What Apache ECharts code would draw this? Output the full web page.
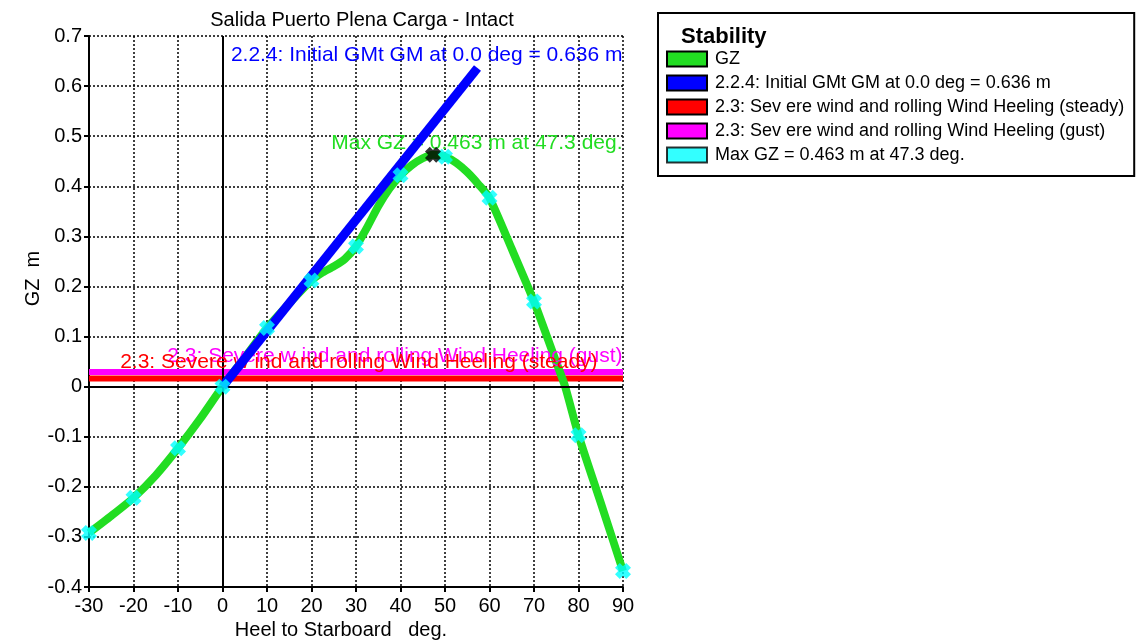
<!DOCTYPE html>
<html lang="en">
<head>
  <meta charset="UTF-8">
  <title>Salida Puerto Plena Carga - Intact</title>
  <style>
    body { margin: 0; padding: 0; background: #fff; }
    #chart { width: 1138px; height: 642px; }
  </style>
  <script src="https://cdn.jsdelivr.net/npm/echarts@6/dist/echarts.min.js"></script>
</head>
<body>
  <div id="chart"></div>
  <script>
    // GZ curve (heel in deg, GZ in m)
    const heelDeg = [-30, -25, -20, -15, -10, -5, 0, 5, 10, 15, 20, 22.5, 25, 27.5, 30, 32.5, 35, 37.5,
                     40, 42.5, 45, 47.3, 50, 52.5, 55, 57.5, 60, 65, 70, 75, 77, 80, 85, 90];
    const gzValues = [-0.292, -0.258, -0.222, -0.177, -0.123, -0.064, 0, 0.058, 0.117, 0.166, 0.212, 0.228, 0.240, 0.255,
                      0.280, 0.318, 0.360, 0.395, 0.422, 0.442, 0.456, 0.463, 0.459, 0.447, 0.428, 0.404, 0.377, 0.275,
                      0.170, 0.049, 0, -0.097, -0.232, -0.368];

    // cyan cross markers every 10 deg
    const markDeg = [-30, -20, -10, 0, 10, 20, 30, 40, 50, 60, 70, 80, 90];
    const markGz = [-0.292, -0.222, -0.123, 0, 0.117, 0.212, 0.280, 0.422, 0.459, 0.377, 0.170, -0.097, -0.368];

    // initial GM line, up to 1 rad
    const gmDeg = [0, 57.3];
    const gmGz = [0, 0.636];

    // wind heeling arms
    const windDeg = [-30, 90];
    const steadyArm = [0.016, 0.016];
    const gustArm = [0.029, 0.029];

    // max GZ point
    const maxDeg = [47.3];
    const maxGz = [0.463];

    const xTicks = { min: -30, max: 90, step: 10 };
    const yTicks = { min: -0.4, max: 0.7, step: 0.1 };

    const names = {
      gz: 'GZ',
      gm: '2.2.4: Initial GMt GM at 0.0 deg = 0.636 m',
      steady: '2.3: Sev ere wind and rolling Wind Heeling (steady)',
      gust: '2.3: Sev ere wind and rolling Wind Heeling (gust)',
      max: 'Max GZ = 0.463 m at 47.3 deg.'
    };

    const pairs = (xs, ys) => xs.map((x, i) => [x, ys[i]]);
    const font = "'Liberation Sans', Arial, sans-serif";
    // bold X marker
    const crossPath = 'path://M0,3 L3,0 L5,2 L7,0 L10,3 L8,5 L10,7 L7,10 L5,8 L3,10 L0,7 L2,5 Z';
    const dotted = { color: '#000', width: 1.5, type: [2, 2] };

    const chart = echarts.init(document.getElementById('chart'));

    const option = {
      backgroundColor: '#fff',
      animation: false,
      textStyle: { fontFamily: font },
      title: [
        {
          text: 'Salida Puerto Plena Carga - Intact',
          left: 357, top: 5, textAlign: 'center',
          textStyle: { fontSize: 20, fontWeight: 'normal', color: '#000', fontFamily: font }
        },
        {
          text: 'Stability',
          left: 676, top: 21,
          textStyle: { fontSize: 22, fontWeight: 'bold', color: '#000', fontFamily: font }
        }
      ],
      legend: {
        orient: 'vertical',
        left: 658, top: 13,
        padding: [37, 10, 12, 8],
        itemGap: 6,
        itemWidth: 40, itemHeight: 15,
        icon: 'rect',
        selectedMode: false,
        borderColor: '#000', borderWidth: 2,
        itemStyle: { borderColor: '#000', borderWidth: 2 },
        textStyle: { fontSize: 18, lineHeight: 18, color: '#000', fontFamily: font, padding: [0, 0, 0, 3] },
        data: [names.gz, names.gm, names.steady, names.gust, names.max]
      },
      grid: { left: 89, right: 515, top: 36, bottom: 55, outerBoundsMode: 'none' },
      xAxis: {
        type: 'value',
        min: xTicks.min, max: xTicks.max, interval: xTicks.step,
        name: 'Heel to Starboard   deg.',
        nameLocation: 'middle', nameGap: 33,
        nameTextStyle: { fontSize: 20, color: '#000', padding: [0, 30, 0, 0] },
        axisLine: { onZero: false, lineStyle: { color: '#000', width: 2 } },
        axisTick: { show: true, length: 5, lineStyle: { color: '#000', width: 2 } },
        axisLabel: { fontSize: 20, color: '#000', margin: 9 },
        splitLine: { show: true, lineStyle: dotted }
      },
      yAxis: {
        type: 'value',
        min: yTicks.min, max: yTicks.max, interval: yTicks.step,
        name: 'GZ  m',
        nameLocation: 'middle', nameGap: 44,
        nameTextStyle: { fontSize: 20, color: '#000', padding: [0, 0, 0, 66] },
        axisLine: { onZero: false, lineStyle: { color: '#000', width: 2 } },
        axisTick: { show: true, length: 5, lineStyle: { color: '#000', width: 2 } },
        axisLabel: { fontSize: 20, color: '#000', margin: 7, formatter: v => String(Number(v.toFixed(1))) },
        splitLine: { show: true, lineStyle: dotted }
      },
      series: [
        {
          name: 'zero',
          type: 'line',
          data: [],
          z: 1,
          markLine: {
            silent: true, symbol: 'none', animation: false,
            label: { show: false },
            lineStyle: { color: '#000', width: 2, type: 'solid' },
            data: [{ xAxis: 0 }, { yAxis: 0 }]
          }
        },
        {
          name: names.steady,
          type: 'line',
          data: pairs(windDeg, steadyArm),
          symbol: 'none', z: 2,
          itemStyle: { color: '#ff0000' },
          lineStyle: { color: '#ff0000', width: 6 }
        },
        {
          name: names.gust,
          type: 'line',
          data: pairs(windDeg, gustArm),
          symbol: 'none', z: 3,
          itemStyle: { color: '#ff00ff' },
          lineStyle: { color: '#ff00ff', width: 6 }
        },
        {
          name: names.gz,
          type: 'line',
          data: pairs(heelDeg, gzValues),
          symbol: 'none', smooth: 0.2, z: 4,
          itemStyle: { color: '#22dd22' },
          lineStyle: { color: '#22dd22', width: 8 }
        },
        {
          name: names.gm,
          type: 'line',
          data: pairs(gmDeg, gmGz),
          symbol: 'none', z: 5,
          itemStyle: { color: '#0000ff' },
          lineStyle: { color: '#0000ff', width: 9 }
        },
        {
          name: names.max,
          type: 'scatter',
          data: pairs(markDeg, markGz),
          symbol: crossPath, symbolSize: 16, z: 6,
          itemStyle: { color: '#00ffff' }
        },
        {
          name: 'maxPoint',
          type: 'scatter',
          data: pairs(maxDeg, maxGz),
          symbol: crossPath, symbolSize: 16, z: 7,
          itemStyle: { color: '#000' }
        },
        {
          name: 'notes',
          type: 'scatter',
          data: [],
          z: 10,
          markPoint: {
            symbol: 'circle', symbolSize: 1, silent: true, animation: false,
            itemStyle: { color: 'transparent' },
            label: { show: true, position: 'left', distance: 0, fontSize: 21, fontFamily: font },
            data: [
              { coord: [90, 0.662], label: { formatter: names.gm, color: '#0000ff' } },
              { coord: [90, 0.486], label: { formatter: names.max, color: '#22dd22' } },
              { coord: [90, 0.061], label: { formatter: '2.3: Severe w ind and rolling Wind Heeling (gust)', color: '#ff00ff' } },
              { coord: [84.4, 0.048], label: { formatter: '2.3: Severe w ind and rolling Wind Heeling (steady)', color: '#ff0000' } }
            ]
          }
        }
      ]
    };

    chart.setOption(option);
  </script>
</body>
</html>
